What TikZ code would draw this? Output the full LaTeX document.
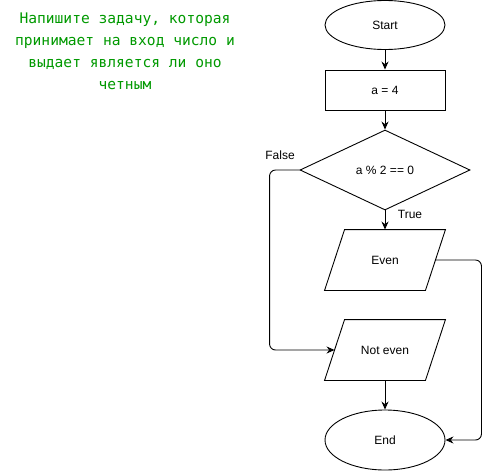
\documentclass[tikz,border=0pt]{standalone}
\usepackage{fontspec}
\setmainfont{Liberation Sans}
\newfontfamily\taskfont{DejaVu Sans Mono}
\usetikzlibrary{arrows.meta,positioning,shapes.geometric}
\definecolor{taskgreen}{RGB}{0,153,0}

\tikzset{
    blk/.style={draw, line width=0.9pt, inner sep=0pt, font=\fontsize{12}{14}\selectfont},
    term/.style={blk, ellipse, minimum width=120pt},
    proc/.style={blk, rectangle, minimum width=120pt, minimum height=40pt},
    decide/.style={blk, diamond, minimum width=170pt, minimum height=80pt},
    io/.style={blk, draw=none, rectangle, minimum width=100pt, minimum height=60pt},
    arr/.style={line width=0.9pt, -{Stealth[length=8pt,width=7pt]}},
    lbl/.style={font=\fontsize{12}{14}\selectfont},
}

\begin{document}
\begin{tikzpicture}[x=1pt,y=-1pt]
    \useasboundingbox (0,0) rectangle (489,471);
    % task text
    \node[text=taskgreen, align=center, font=\taskfont\fontsize{14.6}{22}\selectfont] (task) at (125,51)
        {Напишите задачу, которая\\принимает на вход число и\\выдает является ли оно\\четным};
    % blocks
    \node[term, minimum height=49pt] (start) at (385,25) {Start};
    \node[proc] (init) at (385,90) {a = 4};
    \node[decide] (cond) at (385,170) {a \% 2 == 0};
    \node[io] (even) at (385,260) {Even};
    \node[io] (noteven) at (385,350) {Not even};
    \node[term, minimum height=60pt] (end) at (385,440) {End};
    % slanted outlines of the io blocks
    \foreach \n in {even,noteven}
        \draw[line width=0.9pt] ([xshift=10pt]\n.north west) -- ([xshift=10pt]\n.north east)
            -- ([xshift=-10pt]\n.south east) -- ([xshift=-10pt]\n.south west) -- cycle;
    % connectors
    \draw[arr] (start) -- (init);
    \draw[arr] (init) -- (cond);
    \draw[arr] (cond) -- (even);
    \draw[arr, rounded corners=6pt] (cond.west) -- ++(-30,0) |- (noteven.west);
    \draw[arr, rounded corners=6pt] (even.east) -- ++(46,0) |- (end.east);
    \draw[arr] (noteven) -- (end);
    \node[lbl] (lfalse) at (280,155) {False};
    \node[lbl] (ltrue) at (410,214) {True};
\end{tikzpicture}
\end{document}
